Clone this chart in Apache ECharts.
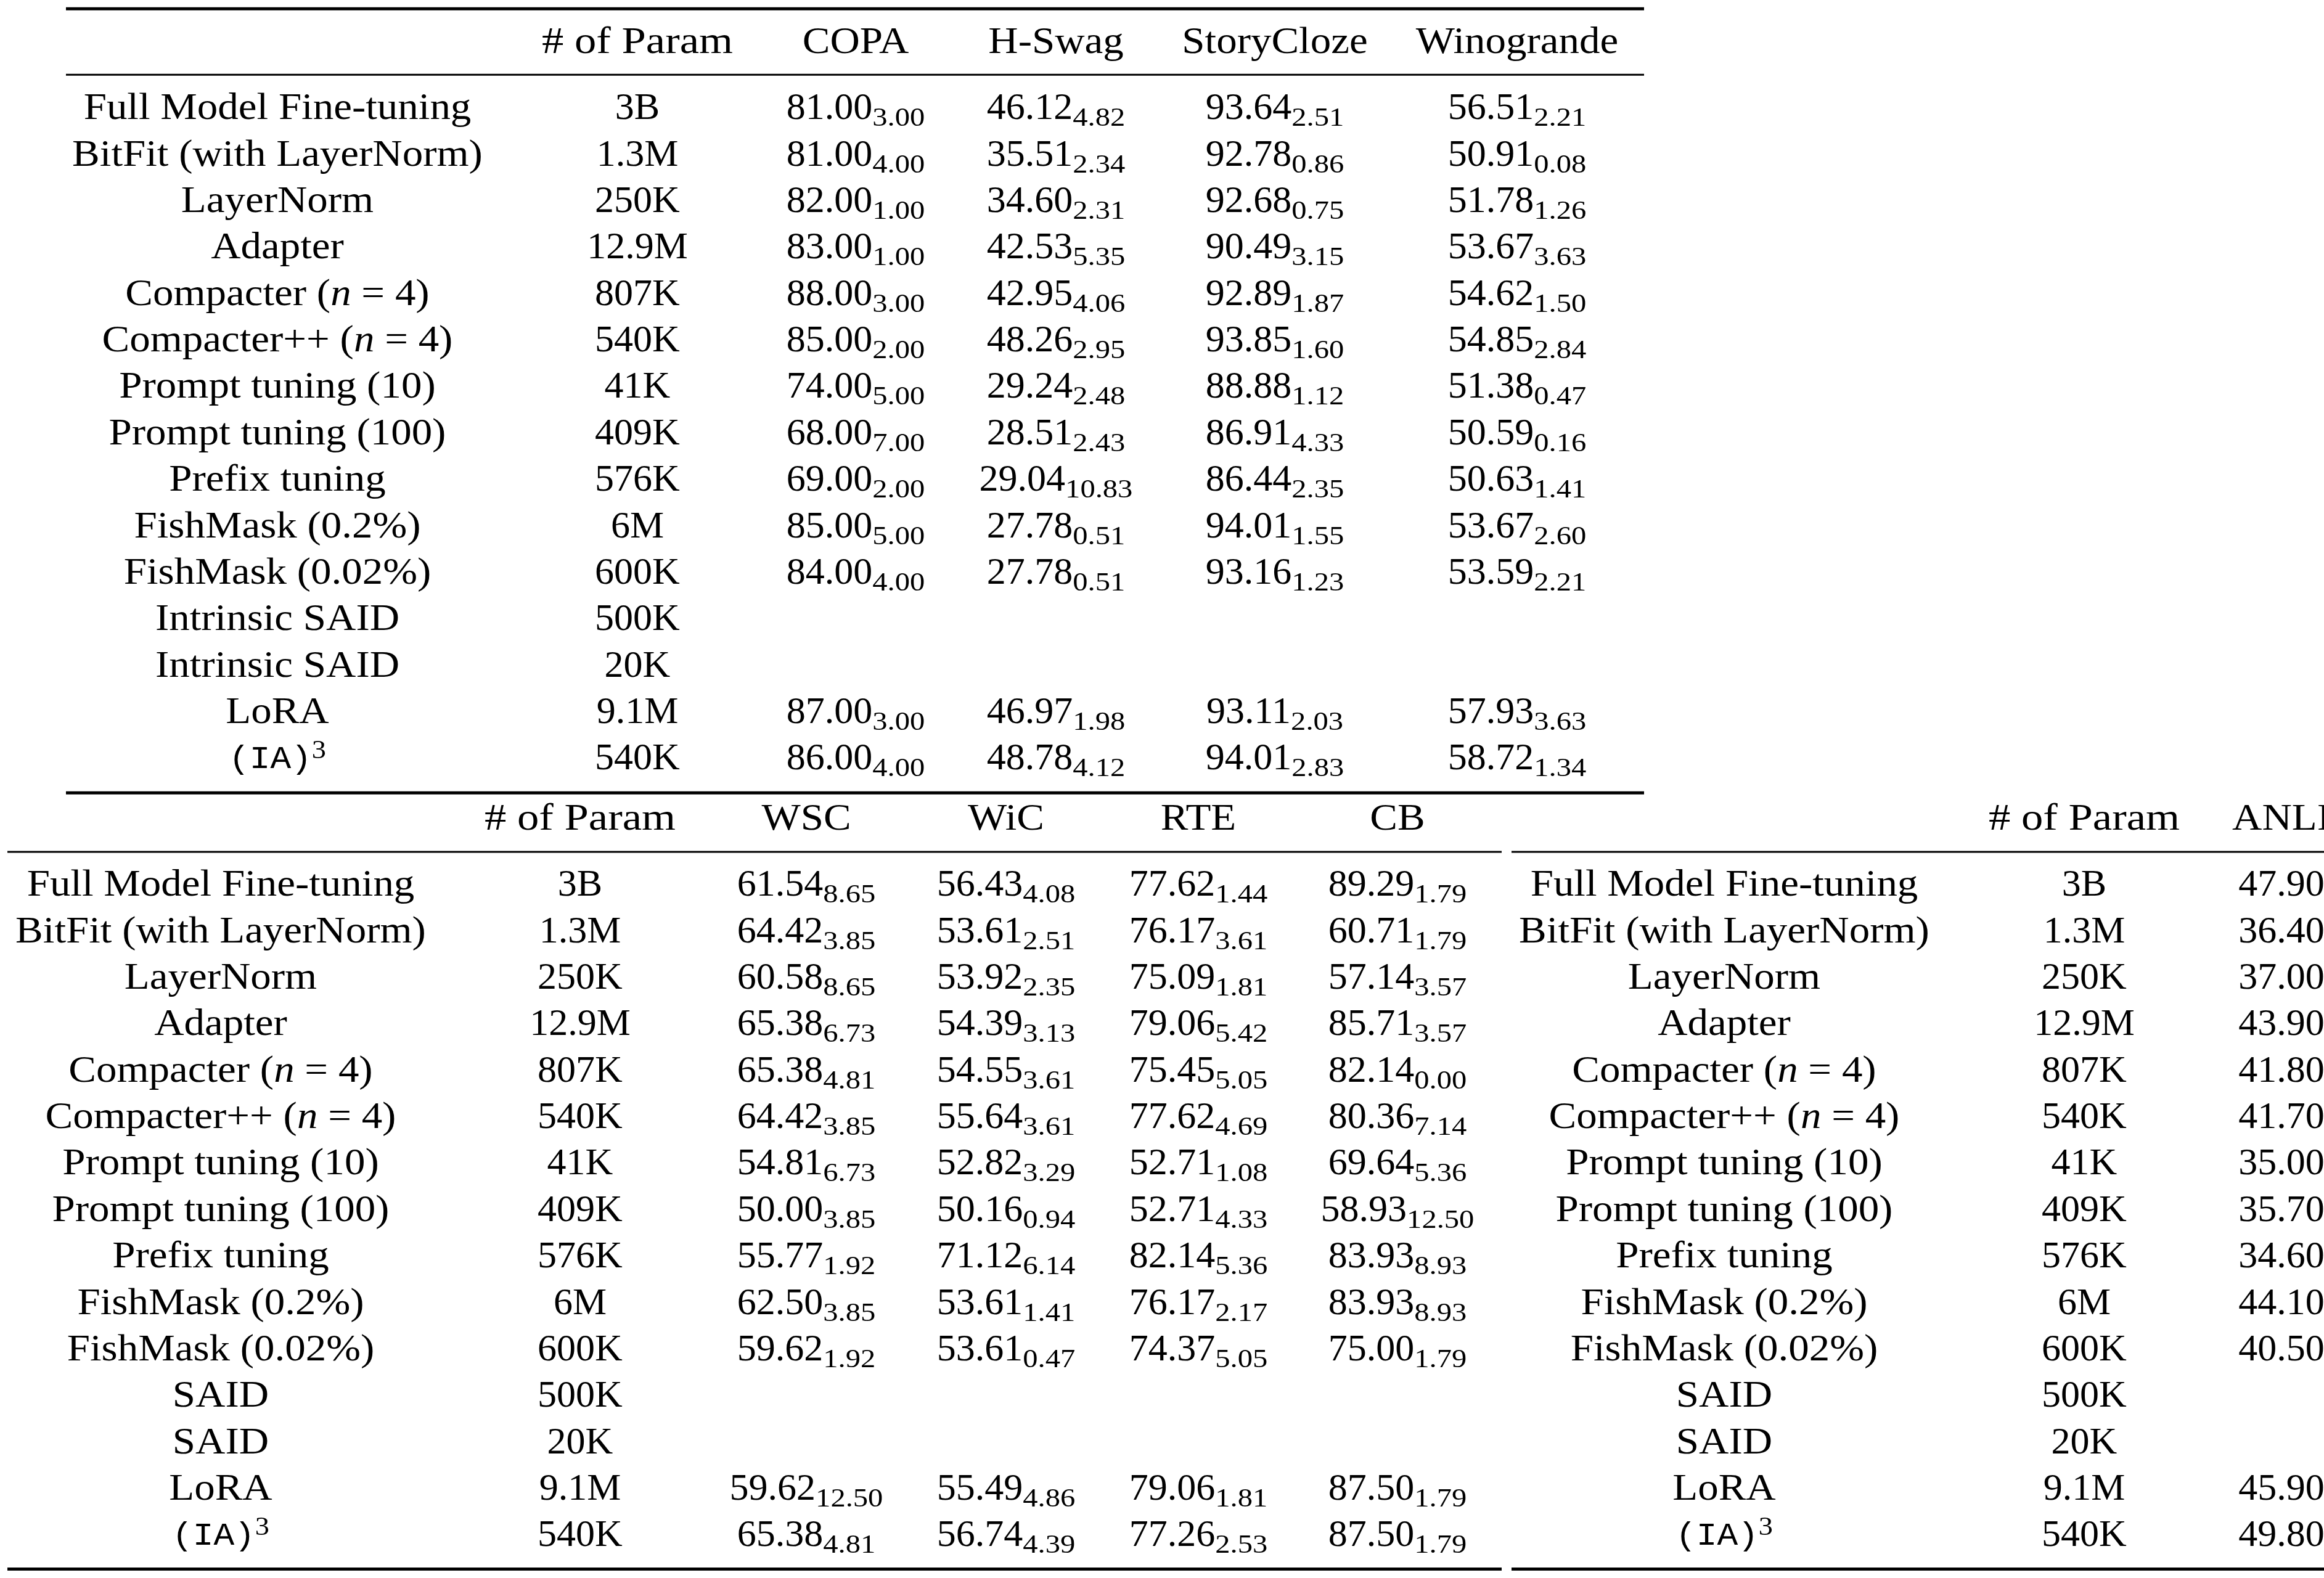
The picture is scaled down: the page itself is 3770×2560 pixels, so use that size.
<!DOCTYPE html>
<html>
<head>
<meta charset="utf-8">
<script src="https://cdn.jsdelivr.net/npm/echarts@6/dist/echarts.min.js"></script>
<style>
  html, body { margin: 0; padding: 0; background: #fff; }
  #main { width: 3770px; height: 2560px; }
</style>
</head>
<body>
<div id="main"></div>
<script>
// ---- table content ----
const methodsTop = ['Full Model Fine-tuning', 'BitFit (with LayerNorm)', 'LayerNorm', 'Adapter',
  'Compacter (n = 4)', 'Compacter++ (n = 4)', 'Prompt tuning (10)', 'Prompt tuning (100)',
  'Prefix tuning', 'FishMask (0.2%)', 'FishMask (0.02%)', 'Intrinsic SAID', 'Intrinsic SAID',
  'LoRA', '(IA)3'];
const methodsBottom = ['Full Model Fine-tuning', 'BitFit (with LayerNorm)', 'LayerNorm', 'Adapter',
  'Compacter (n = 4)', 'Compacter++ (n = 4)', 'Prompt tuning (10)', 'Prompt tuning (100)',
  'Prefix tuning', 'FishMask (0.2%)', 'FishMask (0.02%)', 'SAID', 'SAID',
  'LoRA', '(IA)3'];
const params = ['3B', '1.3M', '250K', '12.9M', '807K', '540K', '41K', '409K', '576K', '6M', '600K', '500K', '20K', '9.1M', '540K'];
const paramHeader = '# of Param';

const headersTop = ['COPA', 'H-Swag', 'StoryCloze', 'Winogrande'];
const headersMid = ['WSC', 'WiC', 'RTE', 'CB'];
const headersRight = ['ANLI'];

const copaMean  = [81.00, 81.00, 82.00, 83.00, 88.00, 85.00, 74.00, 68.00, 69.00, 85.00, 84.00, null, null, 87.00, 86.00];
const copaStd   = [3.00, 4.00, 1.00, 1.00, 3.00, 2.00, 5.00, 7.00, 2.00, 5.00, 4.00, null, null, 3.00, 4.00];
const hswagMean = [46.12, 35.51, 34.60, 42.53, 42.95, 48.26, 29.24, 28.51, 29.04, 27.78, 27.78, null, null, 46.97, 48.78];
const hswagStd  = [4.82, 2.34, 2.31, 5.35, 4.06, 2.95, 2.48, 2.43, 10.83, 0.51, 0.51, null, null, 1.98, 4.12];
const storyMean = [93.64, 92.78, 92.68, 90.49, 92.89, 93.85, 88.88, 86.91, 86.44, 94.01, 93.16, null, null, 93.11, 94.01];
const storyStd  = [2.51, 0.86, 0.75, 3.15, 1.87, 1.60, 1.12, 4.33, 2.35, 1.55, 1.23, null, null, 2.03, 2.83];
const winoMean  = [56.51, 50.91, 51.78, 53.67, 54.62, 54.85, 51.38, 50.59, 50.63, 53.67, 53.59, null, null, 57.93, 58.72];
const winoStd   = [2.21, 0.08, 1.26, 3.63, 1.50, 2.84, 0.47, 0.16, 1.41, 2.60, 2.21, null, null, 3.63, 1.34];

const wscMean = [61.54, 64.42, 60.58, 65.38, 65.38, 64.42, 54.81, 50.00, 55.77, 62.50, 59.62, null, null, 59.62, 65.38];
const wscStd  = [8.65, 3.85, 8.65, 6.73, 4.81, 3.85, 6.73, 3.85, 1.92, 3.85, 1.92, null, null, 12.50, 4.81];
const wicMean = [56.43, 53.61, 53.92, 54.39, 54.55, 55.64, 52.82, 50.16, 71.12, 53.61, 53.61, null, null, 55.49, 56.74];
const wicStd  = [4.08, 2.51, 2.35, 3.13, 3.61, 3.61, 3.29, 0.94, 6.14, 1.41, 0.47, null, null, 4.86, 4.39];
const rteMean = [77.62, 76.17, 75.09, 79.06, 75.45, 77.62, 52.71, 52.71, 82.14, 76.17, 74.37, null, null, 79.06, 77.26];
const rteStd  = [1.44, 3.61, 1.81, 5.42, 5.05, 4.69, 1.08, 4.33, 5.36, 2.17, 5.05, null, null, 1.81, 2.53];
const cbMean  = [89.29, 60.71, 57.14, 85.71, 82.14, 80.36, 69.64, 58.93, 83.93, 83.93, 75.00, null, null, 87.50, 87.50];
const cbStd   = [1.79, 1.79, 3.57, 3.57, 0.00, 7.14, 5.36, 12.50, 8.93, 8.93, 1.79, null, null, 1.79, 1.79];

const anliMean = [47.90, 36.40, 37.00, 43.90, 41.80, 41.70, 35.00, 35.70, 34.60, 44.10, 40.50, null, null, 45.90, 49.80];

// ---- layout / style ----
const FONT = '"Liberation Serif", "Times New Roman", serif';
const MONO = '"Liberation Mono", monospace';
const MAIN_SIZE = 62;
const SUB_SIZE = 43;
const WORD_SX = 1.08;   // CM letters are wider than Times
const PARAM_HEAD_SX = 1.14;
const SUB_SX = 1.13;
const SUB_DY = 16;
const TEXT_DY = 3;
const ROW_PITCH = 75.36;
const Y_MIN = -2.2, Y_MAX = 14.9;   // keep every grid inside the canvas
const HEADER_ROW = -1.42;

const layouts = [
  {left: 107, firstRow: 174, width: 2560, colX: [343, 927, 1281, 1606, 1961, 2354],
   rules: [[-2.12, 5], [-0.7, 3], [14.76, 5]]},
  {left: 12, firstRow: 1434, width: 2424, colX: [346, 929, 1296, 1620, 1932, 2255],
   rules: [[-0.69, 3], [14.75, 5]]},
  {left: 2452, firstRow: 1434, width: 1318, colX: [345, 929, 1249],
   rules: [[-0.69, 3], [14.75, 5]]}
];

const tables = [
  {methods: methodsTop, headers: headersTop,
   means: [copaMean, hswagMean, storyMean, winoMean], stds: [copaStd, hswagStd, storyStd, winoStd]},
  {methods: methodsBottom, headers: headersMid,
   means: [wscMean, wicMean, rteMean, cbMean], stds: [wscStd, wicStd, rteStd, cbStd]},
  {methods: methodsBottom, headers: headersRight, means: [anliMean], stds: [null]}
];

const RICH = {
  i: {fontSize: MAIN_SIZE, fontFamily: FONT, fontStyle: 'italic', lineHeight: 70, fill: '#000'},
  tt: {fontSize: 52, fontFamily: MONO, lineHeight: 70, fill: '#000'},
  sup: {fontSize: 43, fontFamily: FONT, lineHeight: 46, verticalAlign: 'top', fill: '#000'}
};

const measureCtx = document.createElement('canvas').getContext('2d');
function measure(str, size) {
  measureCtx.font = size + 'px ' + FONT;
  return measureCtx.measureText(str).width;
}

function richMethod(name) {
  if (name === '(IA)3') return '{tt|(IA)}{sup|3}';
  return name.replace('(n = 4)', '({i|n} = 4)');
}

function buildCells(t, lay) {
  const cells = [];
  cells.push({x: lay.colX[1], y: HEADER_ROW, kind: 'word', text: paramHeader, sx: PARAM_HEAD_SX});
  t.headers.forEach((h, j) => cells.push({x: lay.colX[j + 2], y: HEADER_ROW, kind: 'word', text: h}));
  t.methods.forEach((m, i) => {
    cells.push({x: lay.colX[0], y: i, kind: 'word', text: richMethod(m)});
    cells.push({x: lay.colX[1], y: i, kind: 'plain', text: params[i]});
    t.means.forEach((arr, j) => {
      if (arr[i] == null) return;
      const sd = t.stds[j] ? t.stds[j][i] : null;
      cells.push({x: lay.colX[j + 2], y: i, kind: 'num',
        main: arr[i].toFixed(2), sub: sd == null ? null : sd.toFixed(2)});
    });
  });
  return cells;
}

function textEl(x, y, text, sx, align) {
  return {
    type: 'text', x: x, y: y + TEXT_DY, scaleX: sx,
    style: {text: text, rich: RICH, fontSize: MAIN_SIZE, fontFamily: FONT, lineHeight: 70,
      fill: '#000', align: align || 'center', verticalAlign: 'middle'}
  };
}

function numberCell(p, main, sub) {
  const wa = measure(main, MAIN_SIZE);
  const wb = sub ? measure(sub, SUB_SIZE) * SUB_SX : 0;
  const left = p[0] - (wa + wb) / 2;
  const children = [textEl(left, p[1], main, 1, 'left')];
  if (sub) {
    children.push({
      type: 'text', x: left + wa, y: p[1] + TEXT_DY + SUB_DY, scaleX: SUB_SX,
      style: {text: sub, fontSize: SUB_SIZE, fontFamily: FONT, fill: '#000', align: 'left', verticalAlign: 'middle'}
    });
  }
  return {type: 'group', children: children};
}

const grids = [], xAxes = [], yAxes = [], series = [];
layouts.forEach((lay, k) => {
  grids.push({left: lay.left, top: lay.firstRow + Y_MIN * ROW_PITCH, width: lay.width,
    height: (Y_MAX - Y_MIN) * ROW_PITCH});
  xAxes.push({type: 'value', gridIndex: k, min: 0, max: lay.width, show: false});
  yAxes.push({type: 'value', gridIndex: k, min: Y_MIN, max: Y_MAX, inverse: true, show: false});

  const cells = buildCells(tables[k], lay);
  series.push({
    type: 'custom', xAxisIndex: k, yAxisIndex: k, silent: true,
    data: cells.map(c => [c.x, c.y]),
    renderItem: function (params, api) {
      const c = cells[params.dataIndex];
      const p = api.coord([api.value(0), api.value(1)]);
      if (c.kind === 'num') return numberCell(p, c.main, c.sub);
      return textEl(p[0], p[1], c.text, c.sx || (c.kind === 'word' ? WORD_SX : 1));
    }
  });
  series.push({
    type: 'custom', xAxisIndex: k, yAxisIndex: k, silent: true,
    data: lay.rules.map(r => [0, r[0]]),
    renderItem: function (params, api) {
      const y = api.value(1);
      const a = api.coord([0, y]), b = api.coord([lay.width, y]);
      return {type: 'line', shape: {x1: a[0], y1: a[1], x2: b[0], y2: b[1]},
        style: {stroke: '#000', lineWidth: lay.rules[params.dataIndex][1]}};
    }
  });
});

const chart = echarts.init(document.getElementById('main'), null, {renderer: 'canvas', devicePixelRatio: 1});
chart.setOption({
  backgroundColor: '#fff',
  animation: false,
  grid: grids,
  xAxis: xAxes,
  yAxis: yAxes,
  series: series
});
</script>
</body>
</html>
